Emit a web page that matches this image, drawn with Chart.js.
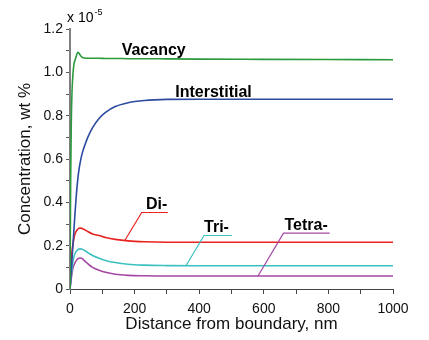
<!DOCTYPE html>
<html>
<head>
<meta charset="utf-8">
<script src="https://cdn.jsdelivr.net/npm/chart.js@4/dist/chart.umd.min.js"></script>
<style>
  html, body { margin: 0; padding: 0; background: #fff; }
  canvas { display: block; }
</style>
</head>
<body>
<canvas id="chart" width="429" height="340"></canvas>
<script>
// Data (concentration in units of 1e-5 wt %)
const distance     = [0, 2, 4, 6, 9, 12, 16, 20, 24, 28, 33, 38, 45, 55, 70, 90, 110, 140, 180, 230, 300, 400, 600, 800, 1000];
const vacancy      = [0, 0.50, 0.77, 0.90, 0.99, 1.035, 1.058, 1.078, 1.092, 1.088, 1.076, 1.069, 1.066, 1.065, 1.065, 1.065, 1.064, 1.064, 1.063, 1.063, 1.062, 1.061, 1.060, 1.059, 1.058];
const interstitial = [0, 0.045, 0.09, 0.135, 0.20, 0.27, 0.36, 0.44, 0.505, 0.553, 0.595, 0.627, 0.66, 0.70, 0.745, 0.787, 0.815, 0.842, 0.86, 0.87, 0.875, 0.876, 0.876, 0.876, 0.876];
const diVac        = [0, 0.06, 0.12, 0.17, 0.205, 0.232, 0.256, 0.268, 0.276, 0.280, 0.281, 0.279, 0.274, 0.265, 0.254, 0.247, 0.238, 0.229, 0.222, 0.218, 0.216, 0.216, 0.216, 0.216, 0.216];
const triVac       = [0, 0.03, 0.06, 0.09, 0.125, 0.148, 0.165, 0.175, 0.181, 0.184, 0.185, 0.184, 0.178, 0.168, 0.155, 0.142, 0.132, 0.122, 0.114, 0.110, 0.108, 0.107, 0.107, 0.107, 0.107];
const tetraVac     = [0, 0.025, 0.05, 0.07, 0.095, 0.11, 0.122, 0.132, 0.139, 0.142, 0.143, 0.140, 0.130, 0.117, 0.100, 0.087, 0.077, 0.068, 0.063, 0.061, 0.060, 0.060, 0.060, 0.060, 0.060];

const FONT = "'Liberation Sans', Arial, sans-serif";
const colors = {
  vacancy: "#2a9a3c",
  interstitial: "#2b4aa0",
  di: "#e8231f",
  tri: "#3cc0c0",
  tetra: "#a448a4"
};

// Curve labels, placed in data units
const notes = [
  { text: "Vacancy",      x: 160, y: 1.081, color: colors.vacancy },
  { text: "Interstitial", x: 326, y: 0.885, color: colors.interstitial },
  { text: "Di-",          x: 235, y: 0.369, color: colors.di,    under: [222, 303, 0.353], to: [170, 0.225] },
  { text: "Tri-",         x: 415, y: 0.262, color: colors.tri,   under: [415, 501, 0.247], to: [359, 0.107] },
  { text: "Tetra-",       x: 664, y: 0.272, color: colors.tetra, under: [661, 804, 0.258], to: [582, 0.060] }
];

function series(ys) {
  return distance.map((x, i) => ({ x: x, y: ys[i] }));
}

function line(label, ys, color) {
  return {
    label: label,
    data: series(ys),
    borderColor: color,
    borderWidth: 1.6,
    pointRadius: 0,
    cubicInterpolationMode: "monotone",
    fill: false
  };
}

// Labels, leader lines and the x 10^-5 multiplier
const notesPlugin = {
  id: "notes",
  afterDatasetsDraw(chart) {
    const ctx = chart.ctx;
    const xs = chart.scales.x, ys = chart.scales.y;
    ctx.save();
    ctx.textBaseline = "alphabetic";
    ctx.textAlign = "left";
    notes.forEach(n => {
      ctx.fillStyle = "#000";
      ctx.font = "bold 16px " + FONT;
      ctx.fillText(n.text, xs.getPixelForValue(n.x), ys.getPixelForValue(n.y));
      if (n.under) {
        const x0 = xs.getPixelForValue(n.under[0]);
        const x1 = xs.getPixelForValue(n.under[1]);
        const y0 = ys.getPixelForValue(n.under[2]);
        ctx.strokeStyle = n.color;
        ctx.lineWidth = 1.2;
        ctx.beginPath();
        ctx.moveTo(x1, y0);
        ctx.lineTo(x0, y0);
        ctx.lineTo(xs.getPixelForValue(n.to[0]), ys.getPixelForValue(n.to[1]));
        ctx.stroke();
      }
    });
    // multiplier
    const a = chart.chartArea;
    ctx.fillStyle = "#000";
    ctx.font = "14px " + FONT;
    ctx.fillText("x 10", a.left - 3, a.top - 7);
    const w = ctx.measureText("x 10").width;
    ctx.font = "9px " + FONT;
    ctx.fillText("-5", a.left - 3 + w + 1, a.top - 14);
    ctx.restore();
  }
};

new Chart(document.getElementById("chart"), {
  type: "line",
  data: {
    datasets: [
      line("Vacancy", vacancy, colors.vacancy),
      line("Interstitial", interstitial, colors.interstitial),
      line("Di-", diVac, colors.di),
      line("Tri-", triVac, colors.tri),
      line("Tetra-", tetraVac, colors.tetra)
    ]
  },
  options: {
    responsive: false,
    animation: false,
    layout: { padding: { top: 29, right: 36, left: 0, bottom: 0 } },
    plugins: { legend: { display: false }, tooltip: { enabled: false } },
    scales: {
      x: {
        type: "linear",
        min: 0,
        max: 1000,
        afterFit: s => { s.height = 51; },
        grid: { drawOnChartArea: false, tickLength: 5, tickColor: "#444" },
        border: { color: "#444", width: 1 },
        ticks: {
          stepSize: 100,
          autoSkip: false,
          maxRotation: 0,
          padding: 7,
          color: "#111",
          font: { family: FONT, size: 14 },
          callback: v => (Math.round(v / 100) % 2 === 0 ? String(v) : "")
        },
        title: {
          display: true,
          text: "Distance from boundary, nm",
          color: "#111",
          font: { family: FONT, size: 17 },
          padding: { top: 0, bottom: 5 }
        }
      },
      y: {
        min: 0,
        max: 1.2,
        afterFit: s => { s.width = 70; },
        grid: { drawOnChartArea: false, tickLength: 4, tickColor: "#555" },
        border: { color: "#808080", width: 2 },
        ticks: {
          stepSize: 0.1,
          autoSkip: false,
          padding: 3,
          color: "#111",
          font: { family: FONT, size: 14 },
          callback: v => {
            const k = Math.round(v * 10);
            if (k % 2 !== 0) return "";
            return k === 0 ? "0" : (k / 10).toFixed(1);
          }
        },
        title: {
          display: true,
          text: "Concentration, wt %",
          color: "#111",
          font: { family: FONT, size: 17 },
          padding: { top: 15, bottom: 0 }
        }
      }
    }
  },
  plugins: [notesPlugin]
});
</script>
</body>
</html>
